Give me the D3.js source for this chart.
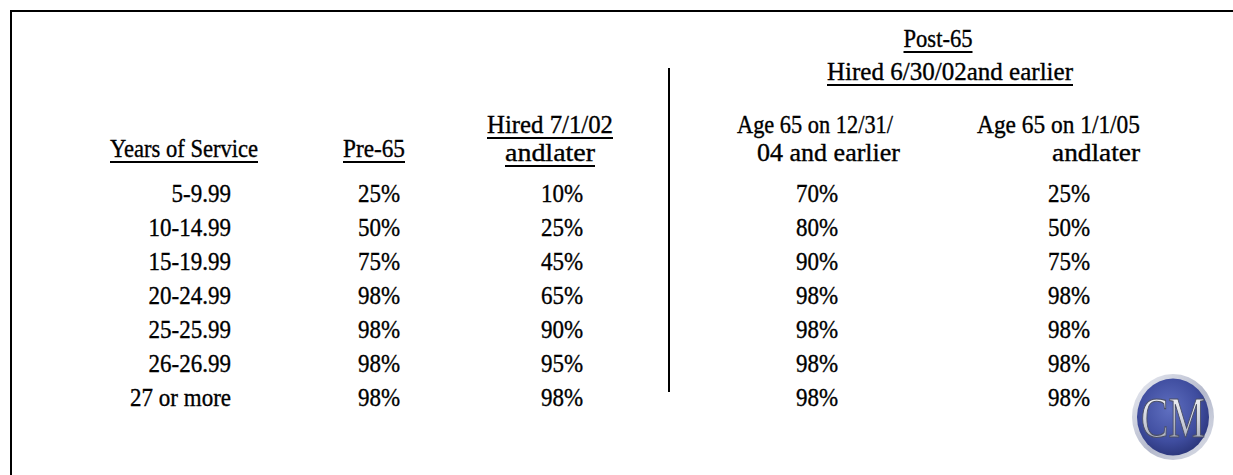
<!DOCTYPE html>
<html>
<head>
<meta charset="utf-8">
<script src="https://cdn.jsdelivr.net/npm/d3@7"></script>
<style>
  html, body { margin: 0; padding: 0; background: #fff; }
  svg { display: block; }
  text.t { font-family: "Liberation Serif", "DejaVu Serif", serif; fill: #000; stroke: #000; stroke-width: 0.35px; }
</style>
</head>
<body>
<svg id="chart" width="1233" height="475"></svg>
<script>
// ---- data ----
const yearsOfService = ["5-9.99", "10-14.99", "15-19.99", "20-24.99", "25-25.99", "26-26.99", "27 or more"];
const pre65 = [25, 50, 75, 98, 98, 98, 98];
const hired70102Later = [10, 25, 45, 65, 90, 95, 98];
const age65By123104 = [70, 80, 90, 98, 98, 98, 98];
const age65From1105 = [25, 50, 75, 98, 98, 98, 98];

const groupHeader = ["Post-65", "Hired 6/30/02and earlier"];
const colHeaders = {
  years: ["Years of Service"],
  pre: ["Pre-65"],
  hired: ["Hired 7/1/02", "andlater"],
  early: ["Age 65 on 12/31/", "04  and earlier"],
  late: ["Age 65 on 1/1/05", "andlater"]
};

// ---- layout ----
const svg = d3.select("#chart");
const FS = 25;
const SX = 0.92;
const pct = d3.format("d");

const y = d3.scalePoint().domain(yearsOfService).range([202, 406]);

// frame (top and left edges)
svg.append("line").attr("x1", 10).attr("x2", 1233).attr("y1", 11).attr("y2", 11)
  .attr("stroke", "#000").attr("stroke-width", 2);
svg.append("line").attr("x1", 11).attr("x2", 11).attr("y1", 10).attr("y2", 475)
  .attr("stroke", "#000").attr("stroke-width", 2);

// divider
svg.append("line").attr("x1", 669).attr("x2", 669).attr("y1", 68).attr("y2", 392)
  .attr("stroke", "#000").attr("stroke-width", 2);

function label(x, yy, str, anchor, underline, widthTarget) {
  const g = svg.append("g").attr("transform", `translate(${x},${yy}) scale(${SX},1)`);
  const t = g.append("text").attr("class", "t").attr("x", 0).attr("y", 0)
    .attr("font-size", FS).attr("text-anchor", anchor).text(str);
  if (widthTarget) t.attr("textLength", widthTarget / SX).attr("lengthAdjust", "spacingAndGlyphs");
  if (underline) {
    const bb = t.node().getBBox();
    g.append("line").attr("x1", bb.x).attr("x2", bb.x + bb.width)
      .attr("y1", 5).attr("y2", 5)
      .attr("stroke", "#000").attr("stroke-width", 2);
  }
  return t;
}

// group header
label(938, 47, groupHeader[0], "middle", true, 69);
label(950, 80, groupHeader[1], "middle", true, 246);

// column headers
label(184, 157, colHeaders.years[0], "middle", true, 148);
label(374, 157, colHeaders.pre[0], "middle", true, 62);
label(550, 133, colHeaders.hired[0], "middle", true, 126);
label(550, 161, colHeaders.hired[1], "middle", true, 90);
label(737, 133, colHeaders.early[0], "start", false, 156);
label(757, 161, colHeaders.early[1], "start", false, 143);
label(1140, 133, colHeaders.late[0], "end", false, 163);
label(1140, 161, colHeaders.late[1], "end", false, 88);

// body columns
const cols = [
  { data: yearsOfService, x: 231, anchor: "end", fmt: d => d },
  { data: pre65, x: 379, anchor: "middle", fmt: d => pct(d) + "%" },
  { data: hired70102Later, x: 562, anchor: "middle", fmt: d => pct(d) + "%" },
  { data: age65By123104, x: 817, anchor: "middle", fmt: d => pct(d) + "%" },
  { data: age65From1105, x: 1069, anchor: "middle", fmt: d => pct(d) + "%" }
];
cols.forEach(c => {
  svg.append("g").selectAll("text").data(c.data).join("text")
    .attr("class", "t")
    .attr("transform", (d, i) => `translate(${c.x},${y(yearsOfService[i])}) scale(${SX},1)`)
    .attr("font-size", FS)
    .attr("text-anchor", c.anchor)
    .text(c.fmt);
});

// ---- logo ----
const defs = svg.append("defs");
const rg = defs.append("radialGradient").attr("id", "ball").attr("cx", "45%").attr("cy", "40%").attr("r", "60%");
rg.append("stop").attr("offset", "0%").attr("stop-color", "#5f6fc0");
rg.append("stop").attr("offset", "70%").attr("stop-color", "#3f4d9f");
rg.append("stop").attr("offset", "100%").attr("stop-color", "#2d387e");
const rim = defs.append("linearGradient").attr("id", "rim").attr("x1", "0").attr("y1", "0").attr("x2", "1").attr("y2", "1");
rim.append("stop").attr("offset", "0%").attr("stop-color", "#eceef4");
rim.append("stop").attr("offset", "55%").attr("stop-color", "#b4b9cc");
rim.append("stop").attr("offset", "100%").attr("stop-color", "#dfe2ea");
const metal = defs.append("linearGradient").attr("id", "metal").attr("x1", "0").attr("y1", "0").attr("x2", "0").attr("y2", "1");
metal.append("stop").attr("offset", "0%").attr("stop-color", "#ffffff");
metal.append("stop").attr("offset", "55%").attr("stop-color", "#cfd2dc");
metal.append("stop").attr("offset", "100%").attr("stop-color", "#9095a8");

const logo = svg.append("g").attr("transform", "translate(1173,417)");
logo.append("ellipse").attr("rx", 41).attr("ry", 43).attr("fill", "url(#rim)");
logo.append("ellipse").attr("rx", 36).attr("ry", 38.5).attr("fill", "url(#ball)");
logo.append("text").attr("x", 0).attr("y", 20).attr("text-anchor", "middle")
  .attr("font-family", "Liberation Serif, serif")
  .attr("font-size", 58).attr("textLength", 64).attr("lengthAdjust", "spacingAndGlyphs")
  .style("fill", "url(#metal)").attr("stroke", "#4a4f66").attr("stroke-width", 1.2)
  .text("CM");
</script>
</body>
</html>
